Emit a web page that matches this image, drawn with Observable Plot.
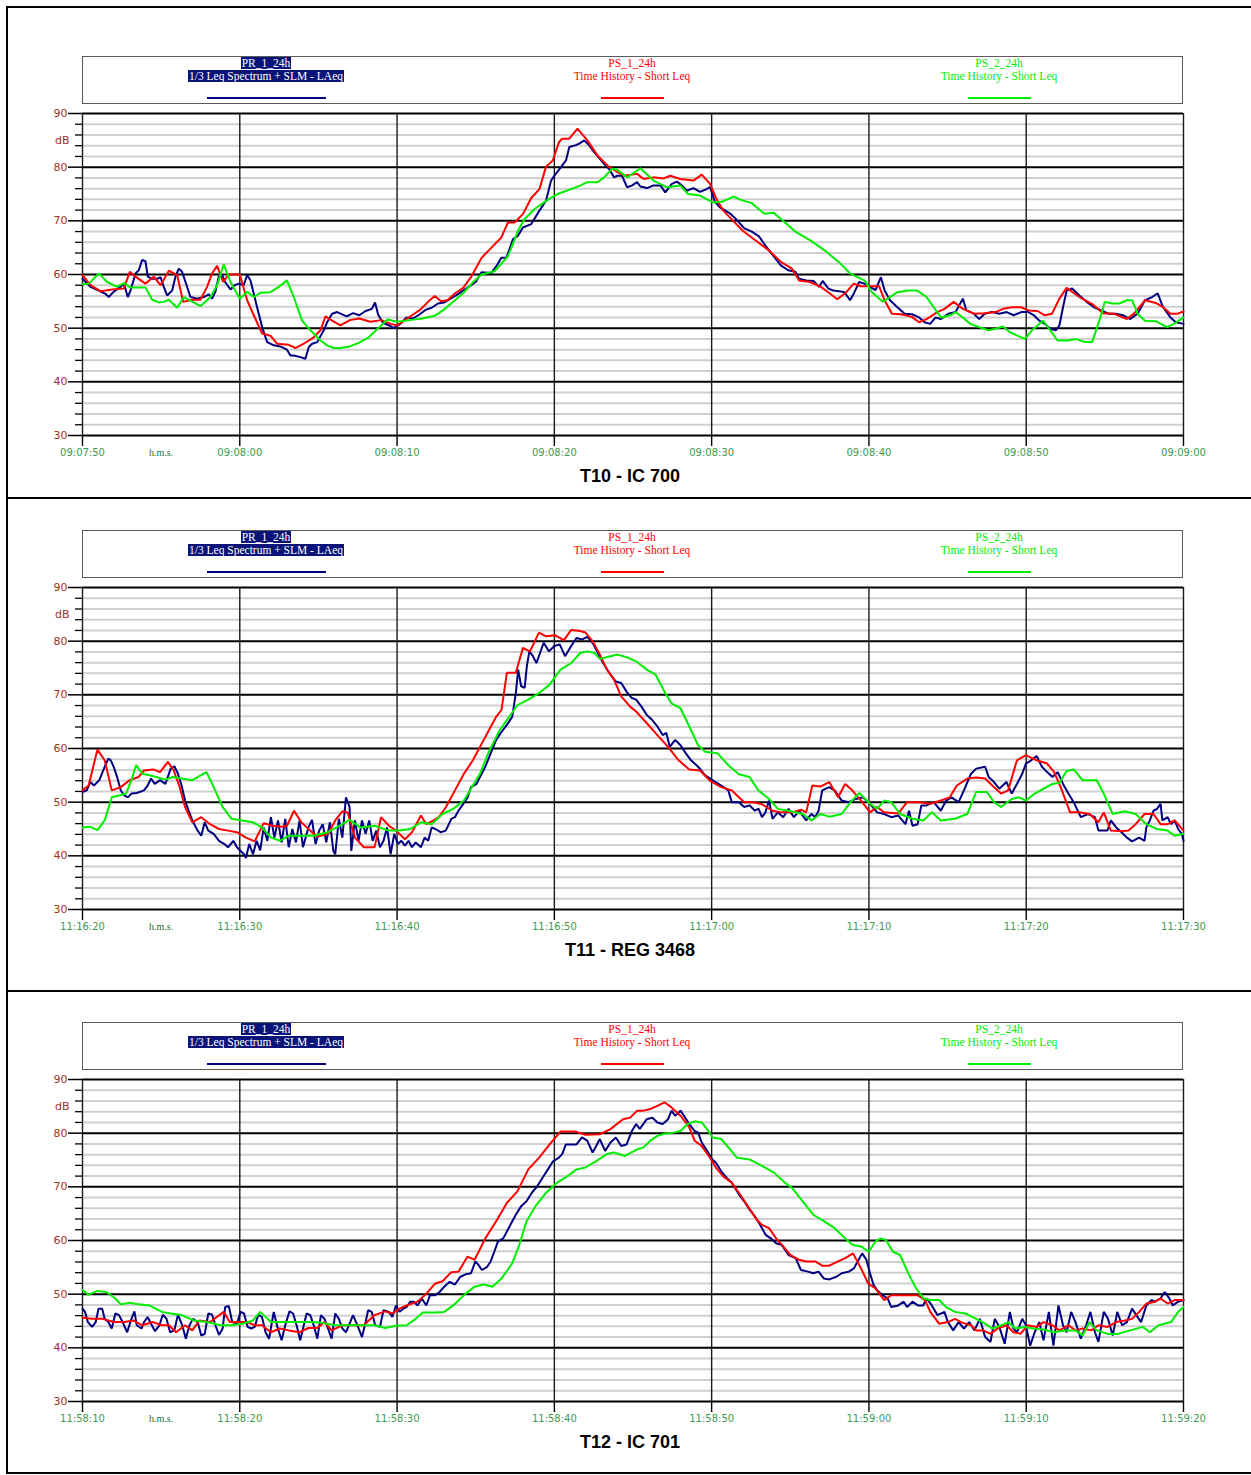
<!DOCTYPE html>
<html>
<head>
<meta charset="utf-8">
<script src="https://cdn.jsdelivr.net/npm/d3@7"></script>
<script src="https://cdn.jsdelivr.net/npm/@observablehq/plot@0.6"></script>
<style>
  html, body { margin: 0; padding: 0; background: #fff; }
  #page { position: relative; width: 1251px; height: 1475px; background: #fff; overflow: hidden; }
  .bd { position: absolute; background: #000; }
  .lgbox { position: absolute; left: 82px; width: 1099px; height: 46px; border: 1.5px solid #5a5a5a; }
  .lg { position: absolute; width: 240px; text-align: center; font-family: "Liberation Serif", serif; font-size: 11.5px; line-height: 13px; white-space: nowrap; }
  .lg span { padding: 0 1px; }
  .mk { position: absolute; height: 2px; }
  .title { position: absolute; left: 0; width: 1260px; text-align: center; font-family: "Liberation Sans", Arial, sans-serif; font-weight: bold; font-size: 18px; }
  .plotwrap { position: absolute; left: 0; }
</style>
</head>
<body>
<div id="page"></div>
<script>
// ---------------- DATA ----------------
const titles = ["T10 - IC 700", "T11 - REG 3468", "T12 - IC 701"];
const seriesNames = ["PR_1_24h", "PS_1_24h", "PS_2_24h"];
const seriesSub = ["1/3 Leq Spectrum + SLM - LAeq", "Time History - Short Leq", "Time History - Short Leq"];
const majorLevels = [30, 40, 50, 60, 70, 80, 90];
const minorLevels = [32, 34, 36, 38, 42, 44, 46, 48, 52, 54, 56, 58, 62, 64, 66, 68, 72, 74, 76, 78, 82, 84, 86, 88];
const tickSeconds = [0, 10, 20, 30, 40, 50, 60, 70];

const t10_ticks = ["09:07:50", "09:08:00", "09:08:10", "09:08:20", "09:08:30", "09:08:40", "09:08:50", "09:09:00"];
const t11_ticks = ["11:16:20", "11:16:30", "11:16:40", "11:16:50", "11:17:00", "11:17:10", "11:17:20", "11:17:30"];
const t12_ticks = ["11:58:10", "11:58:20", "11:58:30", "11:58:40", "11:58:50", "11:59:00", "11:59:10", "11:59:20"];

// [seconds from start, dB]
const t10_blue = [[0,59.2],[0.51,57.7],[1.04,57],[1.46,56.4],[1.67,55.8],[1.99,56.8],[2.42,57.7],[2.63,58.3],[2.88,55.8],[3.05,57],[3.37,60.2],[3.58,60.8],[3.79,62.7],[4.0,62.5],[4.15,59.6],[4.43,59.2],[4.75,59.2],[4.96,59.5],[5.17,57.7],[5.38,56.1],[5.7,57],[5.91,59.6],[6.12,61.1],[6.33,60.5],[6.55,58.6],[6.86,55.8],[7.29,55.5],[7.71,55.8],[8.03,56.3],[8.24,55.5],[8.45,56.8],[8.66,59.6],[8.88,59.9],[9.09,58.5],[9.41,57.2],[9.66,58],[9.94,58.3],[10.25,58],[10.47,59.9],[10.68,58.9],[10.89,56.4],[11.1,53.9],[11.42,50.2],[11.74,47.4],[12.16,46.8],[12.58,46.6],[13.0,46],[13.22,44.9],[13.43,44.9],[13.86,44.6],[14.17,44.3],[14.39,46.5],[14.6,47.1],[14.92,47.4],[15.34,49.6],[15.55,51.1],[15.87,52.7],[16.19,53],[16.4,52.7],[16.8,52.2],[17.2,52.8],[17.6,52.4],[18.0,53.2],[18.4,53.6],[18.6,54.8],[18.8,52.5],[19.1,51],[19.5,50.5],[19.8,50],[20.2,50.8],[20.6,52],[21.0,51.8],[21.4,52.5],[21.8,53.4],[22.2,53.8],[22.6,54.6],[23.0,54.8],[23.4,55.5],[23.8,56.2],[24.2,57],[24.6,57.8],[25.0,58.6],[25.37,60.4],[26.0,60.3],[26.3,61.5],[26.63,63.1],[26.95,63.1],[27.37,66.6],[27.68,67.2],[28.0,68.75],[28.53,69.4],[29.05,71.9],[29.47,73.75],[29.79,77.5],[30.0,78.4],[30.42,80],[30.74,81.25],[30.95,83.75],[31.37,84.1],[31.58,84.4],[31.9,85],[32.2,84.1],[32.53,82.8],[33.16,80.6],[33.47,79.7],[33.8,78.1],[34.0,78.4],[34.3,78.4],[34.63,76.25],[34.95,76.6],[35.26,77.2],[35.47,76.4],[35.9,76.1],[36.3,76.6],[36.74,76.6],[37.05,75.3],[37.47,76.9],[37.79,77.3],[38.1,76.6],[38.42,75.6],[38.84,76.1],[39.26,75.4],[39.68,75.9],[39.9,76.3],[40.2,73.6],[40.53,72.5],[41.16,71.4],[41.62,70.1],[42.08,68.6],[42.55,68],[43.01,67.1],[43.47,65.2],[43.94,63.4],[44.4,61.7],[44.86,60.8],[45.32,60.5],[45.56,59.2],[46.02,58.9],[46.48,58.8],[46.83,57.7],[47.06,58.8],[47.41,57.4],[47.75,57],[48.1,56.9],[48.45,56.7],[48.8,55.2],[49.03,56.4],[49.38,58.6],[49.72,58.3],[50.07,57.7],[50.42,57.1],[50.76,59.5],[51.0,57],[51.34,55.2],[51.81,53.9],[52.27,52.7],[52.73,52.6],[53.19,52],[53.54,51.1],[53.89,50.8],[54.24,52],[54.58,51.7],[55.05,52.7],[55.51,53],[55.97,55.5],[56.2,53.3],[56.67,52.7],[57.01,51.7],[57.36,52.7],[57.82,53],[58.29,52.7],[58.75,53],[59.21,52.4],[59.68,53],[60.14,53],[60.49,52.4],[60.83,51.4],[61.18,50.8],[61.53,49.9],[61.88,49.6],[62.11,50.5],[62.34,53.9],[62.57,57],[62.92,57.4],[63.38,56.1],[63.84,54.9],[64.31,53.9],[64.77,53.3],[65.23,52.7],[65.69,52.7],[66.16,52.4],[66.62,51.7],[67.08,52.7],[67.55,55.2],[68.01,55.8],[68.36,56.5],[68.7,53.9],[69.17,52],[69.51,51.1],[70,50.8]];
const t10_red = [[0,59.9],[0.51,58],[1.14,56.9],[1.46,57],[1.89,57.2],[2.63,57.4],[3.01,60.5],[3.37,59.6],[4.0,58.3],[4.53,59.6],[4.96,58],[5.49,60.7],[6.02,59.9],[6.4,54.9],[6.97,55.3],[7.5,55.3],[7.92,57.7],[8.24,60.2],[8.56,61.6],[8.94,58.6],[9.3,60],[10.0,60],[10.47,55.2],[10.89,52.4],[11.42,49],[11.95,48.6],[12.37,47.1],[13.11,46.9],[13.54,46.3],[14.07,47.1],[14.7,48.3],[15.13,49.6],[15.45,52.2],[15.87,51.4],[16.4,50.5],[17.0,51.5],[17.6,51.8],[18.3,51.2],[19.0,51.5],[19.6,50.8],[20.0,50.5],[20.5,51.5],[21.0,52.5],[21.5,53.5],[22.0,55],[22.4,56],[22.8,55],[23.2,55.2],[23.7,56.5],[24.2,57.5],[24.7,59.5],[25.37,63.1],[26.0,65],[26.63,66.9],[27.05,69.7],[27.47,69.7],[28.0,71.25],[28.53,74.25],[29.05,75.9],[29.47,80.1],[29.9,81.25],[30.3,84.7],[30.5,85.3],[30.95,85.3],[31.47,87.2],[32.1,85],[32.74,82.2],[33.37,80.3],[34.0,79.1],[34.42,78.4],[35.26,78.75],[35.68,77.8],[36.3,78.1],[36.95,77.9],[37.37,78.4],[38.0,77.8],[38.84,77.5],[39.37,78.6],[39.9,76.9],[40.3,74.1],[40.74,71.9],[41.37,70],[42.0,68.1],[42.84,66.25],[43.68,64.4],[44.4,62.35],[45.1,61.1],[45.56,58.9],[46.25,58.6],[46.94,57.7],[47.41,56.7],[47.99,55.4],[48.56,56.7],[49.03,58.3],[49.49,57.8],[50.42,57.8],[50.65,57.8],[51.0,55.2],[51.46,52.7],[52.04,52.6],[52.73,52.1],[53.19,51.1],[53.66,51.7],[54.35,53],[54.81,53.6],[55.39,54.9],[55.97,53.6],[56.67,52.7],[57.36,52.8],[58.06,53],[58.52,53.6],[59.1,53.9],[59.68,53.9],[60.14,53.3],[60.72,53.2],[61.18,52.4],[61.64,52.7],[62.11,55.5],[62.57,57.5],[63.38,55.8],[64.2,54.5],[64.88,52.8],[65.57,52.7],[66.39,51.7],[66.85,52.7],[67.55,55.2],[68.24,54.7],[68.7,53.9],[69.17,52.7],[69.63,52.7],[70,53.1]];
const t10_green = [[0,58.2],[0.4,58.3],[1.04,60.2],[1.57,58.6],[2.2,57.7],[2.63,58.4],[3.05,57.6],[4.0,57.6],[4.43,55.3],[4.85,54.8],[5.17,54.9],[5.49,55.3],[6.02,53.8],[6.44,55.8],[7.5,54.1],[8.14,55.8],[8.56,58],[8.98,61.9],[9.41,58.6],[10.0,55.5],[10.47,56.8],[10.89,55.8],[11.31,56.6],[11.95,56.7],[12.48,57.7],[13.0,58.9],[13.43,55.8],[13.96,51.4],[14.49,49.6],[15.13,47.7],[15.55,46.8],[15.97,46.3],[16.4,46.3],[17.0,46.6],[17.6,47.3],[18.2,48.3],[18.8,50],[19.4,51.6],[20.0,51.2],[20.8,51.5],[21.6,51.8],[22.4,52.3],[23.0,53.5],[23.6,55],[24.2,56.5],[24.8,58.5],[25.37,60],[26.2,60.6],[27.05,63.4],[27.68,68.1],[28.1,70.3],[28.74,72.2],[29.58,73.9],[30.2,75],[31.05,75.9],[31.68,76.6],[32.1,77.2],[32.74,77.2],[33.16,78.1],[33.68,79.7],[34.0,79.5],[34.63,78.1],[35.47,79.8],[36.3,77.5],[37.16,76.25],[38.0,76.6],[38.5,75],[39.26,74.7],[40.1,73.4],[40.7,73.6],[41.4,74.5],[41.85,73.9],[42.55,73.3],[43.36,71.3],[43.94,71.5],[44.63,69.8],[45.32,68],[46.25,66.4],[47.18,64.5],[48.1,62.3],[48.8,60.2],[49.26,59.5],[49.72,58.9],[50.19,56.7],[50.88,54.9],[51.34,55.8],[51.81,56.7],[52.5,57],[53.08,57],[53.66,55.8],[54.12,53.9],[54.58,52],[55.16,52.4],[55.51,53],[55.97,52],[56.44,50.8],[57.01,50.2],[57.59,49.6],[58.06,49.9],[58.52,50.3],[58.98,49.2],[59.44,48.6],[59.91,48],[60.37,49.6],[61.07,51.4],[61.53,49.6],[61.99,47.7],[62.69,47.7],[63.15,48],[63.73,47.4],[64.19,47.4],[64.65,51.4],[65.0,54.9],[65.46,54.6],[65.93,54.6],[66.39,55.2],[66.74,55.2],[67.08,52.7],[67.55,51.4],[68.24,51.3],[68.94,50.2],[69.4,50.8],[70,52]];

const t11_blue = [[0,51.9],[0.27,52.2],[0.5,53.75],[0.73,53.1],[1.07,54.1],[1.41,56.6],[1.64,58.1],[1.8,57.8],[1.98,56.6],[2.2,54.7],[2.43,52.2],[2.66,51.25],[2.89,50.9],[3.11,51.6],[3.45,51.7],[3.91,52.2],[4.14,53.1],[4.36,54.4],[4.59,53.4],[4.93,54.1],[5.27,53.4],[5.61,56.25],[5.84,56.7],[6.07,55.3],[6.3,53.1],[6.52,50.3],[6.75,48.4],[6.98,46.6],[7.32,44.7],[7.55,43.75],[7.77,46.25],[8.0,44.7],[8.34,44.1],[8.68,42.8],[9.02,42.2],[9.25,41.6],[9.59,42.8],[9.82,41.6],[10.05,40.9],[10.27,40.3],[10.39,39.6],[10.6,42.2],[10.84,40.3],[11.07,42.8],[11.3,41],[11.52,45.3],[11.75,42.8],[11.98,47.2],[12.2,43.4],[12.43,46.6],[12.66,42.5],[12.89,46.9],[13.11,41.6],[13.34,45],[13.57,42.5],[13.8,46.6],[14.02,41.6],[14.36,45.3],[14.59,46.7],[14.82,42.2],[15.05,44.7],[15.27,45.9],[15.5,42.5],[15.73,46.25],[15.95,40.9],[16.07,40.3],[16.3,46.9],[16.52,43.4],[16.75,50.9],[16.98,49.1],[17.09,40.9],[17.32,46.6],[17.55,42.8],[17.77,46.6],[18.0,44.1],[18.23,46.6],[18.45,42.8],[18.68,44.7],[18.91,41.6],[19.14,42.8],[19.36,45.3],[19.59,40.3],[19.82,44.1],[20.05,42.2],[20.27,42.8],[20.5,41.9],[20.73,42.8],[20.95,41.6],[21.18,42.5],[21.52,41.6],[21.75,43.4],[21.98,42.8],[22.2,45.3],[22.43,45],[22.77,44.4],[23.1,44.7],[23.45,46.9],[23.68,47.2],[23.9,48.4],[24.14,49.4],[24.48,50.9],[24.7,52.8],[25.05,53.4],[25.27,54.7],[25.61,56.6],[25.95,59.1],[26.3,61.6],[26.64,63.1],[26.98,64.4],[27.32,65.9],[27.55,70.3],[27.7,74.7],[27.89,71.6],[28.11,71.3],[28.25,75.3],[28.41,78.1],[28.64,77.2],[28.86,75.9],[29.09,77.8],[29.32,79.7],[29.66,78.1],[30.0,79.1],[30.34,79.4],[30.68,77.2],[31.07,79.1],[31.41,80.6],[31.75,80.3],[32.09,80.8],[32.43,79.7],[32.77,77.8],[33.11,75.9],[33.57,73.75],[33.9,72.5],[34.25,72.2],[34.59,70.6],[34.93,69.4],[35.2,69.1],[35.54,67.8],[35.88,66.25],[36.22,65.3],[36.55,64.1],[36.89,62.5],[37.12,62.9],[37.34,60.3],[37.68,61.6],[38.02,60.6],[38.36,59.1],[38.69,57.8],[39.14,56.6],[39.59,55],[40.05,54.1],[40.61,53.1],[41.06,52.2],[41.28,50],[41.73,50],[42.07,49.1],[42.41,49.4],[42.75,48.4],[42.98,48.8],[43.2,47.2],[43.42,48.1],[43.65,50.3],[43.87,46.9],[44.21,48.1],[44.55,47.2],[44.89,48.75],[45.23,47.2],[45.56,48.4],[46.01,46.6],[46.35,47.8],[46.58,47.2],[46.8,48.4],[47.03,52.2],[47.48,52.8],[47.82,52.2],[48.27,50.3],[48.72,50],[49.17,50.6],[49.62,50.9],[50.07,49.7],[50.52,48.1],[50.97,47.8],[51.42,47.2],[51.87,47.5],[52.32,45.9],[52.55,48.4],[52.77,45.6],[53.1,45.9],[53.33,49.4],[53.67,49.4],[54.12,50],[54.57,48.4],[54.91,50.3],[55.25,50.9],[55.7,50],[56.04,52.2],[56.49,55.3],[56.82,56.25],[57.39,56.6],[57.61,54.7],[57.95,53.75],[58.29,52.5],[58.74,53.75],[59.08,51.6],[59.41,53.4],[59.75,55.3],[59.98,57.2],[60.32,57.8],[60.66,58.6],[61.0,56.6],[61.33,55.6],[61.67,54.7],[62.0,55.6],[62.34,53.4],[62.68,51.6],[63.02,50],[63.47,47.2],[63.92,47.8],[64.37,47.2],[64.59,44.7],[65.16,44.7],[65.38,46.6],[65.72,45.3],[66.06,44.4],[66.4,43.4],[66.73,42.7],[67.18,43.4],[67.52,42.8],[67.64,45.3],[67.86,46.6],[68.09,48.4],[68.32,48.75],[68.54,49.7],[68.66,46.6],[68.99,47.2],[69.21,45.9],[69.44,46.6],[69.66,45],[69.89,44.1],[70,42.8]];
const t11_red = [[0,52.2],[0.39,53.1],[0.95,59.8],[1.41,57.8],[1.86,52.2],[2.43,52.8],[3.0,54.1],[3.57,54.7],[3.91,55.9],[4.48,56.1],[4.93,55.6],[5.43,57.5],[5.8,55.9],[6.18,52.8],[6.52,49.1],[6.98,46.25],[7.55,47.2],[8.11,45.9],[8.68,45],[9.25,44.7],[9.82,44.4],[10.39,43.4],[10.95,42.7],[11.52,46.1],[12.09,45.6],[12.66,45.4],[13.0,45.6],[13.45,48.4],[13.91,46.25],[14.48,44.7],[14.93,43.6],[15.61,44.1],[16.07,46.6],[16.52,48.3],[16.86,48.1],[17.32,43.4],[17.89,41.6],[18.57,41.6],[18.98,47.2],[19.48,45.6],[19.93,44.7],[20.5,43.1],[20.95,44.4],[21.52,47.5],[21.86,45.9],[22.32,46.6],[22.66,47.2],[23.11,49.1],[23.68,52.2],[24.25,55.3],[24.82,57.8],[25.27,60.3],[25.84,63.4],[26.3,65.9],[26.64,67.2],[26.98,74.1],[27.55,74.1],[28.0,78.75],[28.45,78.1],[29.02,81.6],[29.48,80.9],[30.05,81.1],[30.61,80.2],[31.07,82.1],[31.64,81.9],[31.98,81.6],[32.43,80],[32.89,77.5],[33.34,74.7],[33.8,72.8],[34.25,69.7],[34.82,67.8],[35.2,66.9],[35.88,64.7],[36.55,62.5],[37.23,60.3],[37.9,57.8],[38.58,56.1],[39.26,55.9],[39.93,53.9],[40.61,52.8],[41.28,52.2],[41.73,50.9],[42.07,50],[42.64,50],[43.2,49.6],[43.87,48.4],[44.44,48.1],[45.11,48.1],[45.68,48.6],[46.01,48.1],[46.4,53.1],[46.91,52.9],[47.48,53.75],[48.04,50.9],[48.49,53.4],[48.94,52.2],[49.5,50.3],[50.07,48.1],[50.52,49.1],[50.97,48.1],[51.87,47.9],[52.43,50],[53.22,50],[53.9,49.7],[54.57,50.3],[55.14,50.9],[55.59,53.1],[56.26,54.4],[56.82,54.6],[57.39,54.4],[57.84,53.1],[58.4,51.6],[58.85,52.2],[59.41,57.8],[59.98,58.75],[60.66,57.8],[61.33,57.2],[61.78,55.6],[62.23,52.5],[62.79,48.1],[63.36,48.1],[64.03,47.8],[64.59,46.25],[64.93,48.1],[65.38,44.7],[66.06,44.6],[66.51,44.7],[66.96,45.9],[67.52,47.8],[68.09,47.8],[68.54,45.9],[68.99,45.9],[69.44,46.6],[70,44.7]];
const t11_green = [[0,45.3],[0.5,45.4],[0.95,44.8],[1.41,46.6],[1.86,50.9],[2.32,51.25],[2.77,51.6],[3.11,54.1],[3.41,56.9],[3.8,55.3],[4.25,55],[4.7,54.7],[5.27,54.2],[5.73,54.7],[6.3,54.4],[6.98,54.1],[7.89,55.6],[8.34,52.8],[8.91,49.1],[9.48,46.9],[10.16,46.6],[10.84,46.25],[11.41,45.3],[11.98,43.4],[12.55,42.8],[13.11,43.75],[13.8,43.75],[14.7,43.75],[15.61,44.4],[16.52,45.9],[16.98,46.7],[17.66,45.3],[18.57,45.6],[19.48,44.7],[20.16,44.7],[20.84,45],[21.52,46.25],[22.2,45.9],[22.89,47.8],[23.57,48.75],[24.25,50.3],[24.7,52.5],[25.27,55.3],[25.84,59.4],[26.52,63.4],[26.98,65.3],[27.66,68.1],[28.34,69.1],[29.02,70.3],[29.7,71.9],[30.39,74.7],[31.07,75.9],[31.64,77.8],[32.09,78.1],[32.55,77.8],[32.89,76.7],[33.57,77.2],[34.02,77.5],[34.7,76.9],[35.2,76.25],[35.88,74.7],[36.44,73.75],[37.0,70.6],[37.45,68.4],[38.02,67.5],[38.58,64.1],[39.14,60.6],[39.59,59.4],[40.38,59.1],[41.06,56.9],[41.73,55.2],[42.41,54.7],[42.97,52.2],[43.65,50.6],[44.21,48.75],[44.89,48.4],[45.79,47.8],[46.35,46.6],[46.91,47.8],[47.48,47.3],[48.27,47.8],[48.83,50],[49.39,51.7],[50.07,49.7],[50.52,48.75],[50.97,50.3],[51.42,50],[51.98,47.8],[52.77,46.9],[53.45,46.6],[54.01,48.1],[54.57,46.6],[55.47,46.9],[56.26,47.8],[56.82,51.9],[57.5,51.9],[57.95,50],[58.4,49.1],[59.08,50.6],[59.53,50.9],[59.98,50.3],[60.54,51.6],[61.1,52.5],[61.67,53.4],[62.12,53.6],[62.57,55.8],[63.02,56.1],[63.58,54.1],[64.48,54.1],[64.93,51.6],[65.5,47.8],[66.28,48.3],[66.96,47.8],[67.64,45.9],[68.31,45],[68.99,44.7],[69.44,43.75],[70,44.1]];

const t12_blue = [[0,47.3],[0.16,46.7],[0.34,44.8],[0.61,43.9],[0.84,44.8],[1.02,47.3],[1.25,47.3],[1.41,45.4],[1.64,44.8],[1.86,43.6],[2.09,46.4],[2.32,46.1],[2.55,44.8],[2.84,42.9],[3.11,45.4],[3.3,46.8],[3.45,44.2],[3.75,43.6],[3.91,44.8],[4.14,45.75],[4.36,44.5],[4.61,43.1],[4.89,44.2],[5.11,46.2],[5.34,45.4],[5.57,42.9],[5.84,43.25],[6.07,46.2],[6.34,44.2],[6.57,41.7],[6.8,44.2],[7.02,45.4],[7.32,44.8],[7.55,42.3],[7.77,42.6],[8.0,46.4],[8.23,46.2],[8.45,44.2],[8.68,42.4],[8.91,43.6],[9.07,47.6],[9.3,47.8],[9.52,44.8],[9.82,44.5],[10.05,46.7],[10.27,46.4],[10.5,43.9],[10.73,43.6],[10.95,43.9],[11.18,46.2],[11.41,45.75],[11.64,42.9],[11.86,41.7],[12.16,46.7],[12.39,43.9],[12.66,41.4],[12.89,44.2],[13.16,46.8],[13.39,46.4],[13.61,44.2],[13.84,41.4],[14.07,44.2],[14.25,46.4],[14.48,46.1],[14.7,44.2],[14.93,41.7],[15.16,46.1],[15.39,45.4],[15.61,43.6],[15.84,41.7],[16.07,46.4],[16.3,45.4],[16.52,43.6],[16.75,42.9],[17.02,44.8],[17.2,46.1],[17.48,44.2],[17.77,42],[18.0,44.8],[18.16,47],[18.39,46.7],[18.61,44.2],[18.91,43.9],[19.14,47],[19.48,46.7],[19.7,45.75],[19.93,47.9],[20.16,46.7],[20.39,47.3],[20.61,47.6],[20.84,48.6],[21.07,48.6],[21.3,47.9],[21.57,49.2],[21.86,47.9],[22.09,49.8],[22.43,49.8],[22.7,50.4],[23.0,51.4],[23.34,52.3],[23.68,51.8],[24.02,53.25],[24.36,53.7],[24.7,53.9],[24.98,56.1],[25.16,55.5],[25.39,54.5],[25.73,55.1],[25.95,56.1],[26.18,57.9],[26.41,59.8],[26.75,60.4],[27.2,62.9],[27.55,64.8],[27.89,66.4],[28.23,67.3],[28.57,68.9],[28.91,70.1],[29.25,71.7],[29.59,73.25],[29.93,74.8],[30.27,75.4],[30.5,76.1],[30.73,77.9],[31.07,77.9],[31.41,77.9],[31.75,79.2],[32.09,78.6],[32.43,76.4],[32.66,77.6],[32.89,78.9],[33.23,76.7],[33.57,78.25],[33.91,79.2],[34.25,77.6],[34.59,77.9],[34.93,80.4],[35.2,81.7],[35.43,80.8],[35.65,81.7],[35.88,82.6],[36.22,82.9],[36.55,82],[36.89,81.7],[37.23,82.6],[37.45,84.2],[37.68,83.25],[38.02,84.2],[38.24,83.25],[38.58,81.7],[38.92,80.4],[39.14,80.1],[39.37,78.25],[39.71,76.7],[40.05,75.1],[40.27,74.5],[40.61,72.9],[40.95,71.7],[41.28,70.75],[41.73,68.6],[42.07,67.3],[42.41,65.75],[42.75,64.5],[43.09,62.9],[43.42,61.1],[43.76,60.4],[44.1,59.5],[44.44,59.2],[44.89,57.3],[45.34,56.7],[45.68,54.5],[46.13,54.2],[46.46,53.9],[46.8,54.2],[47.14,52.9],[47.48,52.75],[47.93,53.25],[48.27,53.9],[48.72,54.2],[49.05,54.8],[49.28,56.1],[49.57,57.6],[49.84,56.4],[50.07,53.9],[50.29,51.75],[50.52,50.75],[50.86,49.8],[51.19,49.2],[51.42,47.6],[51.87,47.9],[52.21,48.6],[52.43,47.6],[52.77,48.6],[53.11,47.9],[53.45,47.9],[53.67,49.2],[54.0,47.9],[54.35,46.1],[54.8,46.7],[55.02,44.8],[55.36,43.25],[55.7,44.8],[56.04,43.6],[56.37,44.8],[56.71,43.25],[57.05,45.4],[57.39,42],[57.73,41.1],[58.0,45.4],[58.29,43.9],[58.63,40.75],[58.96,46.7],[59.19,43.6],[59.41,42.9],[59.75,45.4],[59.98,44.2],[60.25,40.4],[60.54,42.9],[60.83,44.8],[61.1,41.4],[61.44,46.7],[61.73,40.4],[62.05,47.9],[62.34,44.2],[62.57,42.9],[62.86,46.7],[63.13,44.8],[63.47,41.7],[63.81,44.2],[64.08,46.7],[64.37,42.9],[64.59,41.1],[64.93,46.7],[65.2,45.4],[65.5,42.3],[65.79,46.7],[66.1,44.2],[66.4,44.8],[66.73,47.3],[67.0,46.1],[67.3,44.8],[67.64,47.9],[67.97,48.9],[68.2,48.6],[68.54,49.2],[68.8,50.4],[69.1,49.2],[69.32,47.9],[69.66,48.6],[70,48.9]];
const t12_red = [[0,45.6],[0.61,45.4],[1.3,45.4],[1.98,44.8],[2.66,44.8],[3.23,45.1],[3.8,44.2],[4.48,44.8],[5.05,44.2],[5.5,44.2],[5.95,42.9],[6.52,44.2],[6.98,43.25],[7.43,45.1],[8.11,44.8],[8.98,46.7],[9.36,44.8],[10.05,44.8],[10.5,44.8],[10.95,44.2],[11.41,44.2],[11.98,42.9],[12.55,43.6],[13.11,43.25],[13.8,42.9],[14.36,43.7],[14.93,43.7],[15.39,44.8],[15.84,43.25],[16.52,44.2],[17.2,44.2],[17.89,44.2],[18.57,46.1],[19.25,46.8],[19.7,46.4],[20.16,47.3],[20.61,47.9],[21.3,48.6],[21.86,50.1],[22.43,52],[22.89,52.4],[23.45,54.1],[23.91,54.2],[24.48,57],[24.93,56.4],[25.61,60.4],[26.3,63.6],[26.98,67],[27.66,69.2],[28.34,73.25],[29.02,75.4],[29.7,77.9],[30.39,80.3],[31.3,80.3],[31.98,79.7],[32.89,79.8],[33.57,80.75],[34.36,82.6],[34.82,82.9],[35.27,84.2],[35.65,84.2],[36.1,84.5],[36.55,85.1],[37.0,85.75],[37.45,84.8],[38.02,83.25],[38.58,81.1],[38.92,78.6],[39.37,77.6],[39.82,75.75],[40.27,73.6],[40.72,72],[41.28,70.75],[41.73,68.9],[42.3,66.4],[42.86,63.9],[43.2,62.9],[43.65,62.3],[44.1,60.4],[44.55,58.9],[45.0,57.3],[45.56,56.4],[46.01,56.1],[46.58,56.1],[47.03,55.3],[47.48,55.3],[48.04,56.1],[48.49,56.7],[48.99,57.6],[49.5,54.8],[49.95,52],[50.4,51.1],[50.97,48.9],[51.42,49.8],[51.98,49.8],[53.11,49.8],[53.56,48.9],[53.9,46.7],[54.46,44.5],[55.02,44.8],[55.47,45.4],[55.92,44.7],[56.49,44.2],[56.82,43.25],[57.27,43.25],[57.73,42.6],[58.18,43.6],[58.74,44.2],[59.19,42.9],[59.64,42.6],[60.09,44.2],[60.66,43.9],[61.1,44.8],[61.67,44.2],[62.12,43.25],[62.68,44.2],[63.13,43.25],[63.58,43.6],[64.14,43.25],[64.59,44.2],[65.16,43.9],[65.72,44.8],[66.28,45.1],[66.73,45.4],[67.18,46.7],[67.64,48.25],[68.2,48.6],[68.54,49.2],[68.99,48.25],[69.44,48.9],[70,48.9]];
const t12_green = [[0,50.75],[0.39,49.9],[0.95,50.6],[1.52,50.4],[2.09,49.2],[2.43,48.1],[3.0,48.4],[3.57,48.1],[4.25,47.9],[5.05,46.7],[5.61,46.4],[6.3,46.1],[7.09,45.1],[7.89,44.8],[8.8,44.2],[9.48,44.2],[10.16,44.5],[10.84,45.1],[11.3,46.7],[11.98,44.8],[12.66,44.8],[13.34,44.8],[14.25,44.8],[15.16,44.7],[16.07,44.2],[16.98,44.2],[17.89,44.2],[18.57,44.2],[19.25,43.7],[19.93,44.1],[20.61,44.2],[21.18,45.4],[21.64,46.6],[22.43,46.6],[23.0,46.7],[23.57,47.9],[24.36,50.1],[24.93,51.4],[25.5,51.8],[26.07,51.4],[26.64,52.9],[27.32,55.75],[27.77,59.2],[28.23,63.6],[28.8,66.4],[29.48,68.9],[30.16,70.75],[30.84,72],[31.41,73.25],[31.98,73.6],[32.66,74.8],[33.34,76.1],[33.8,76.4],[34.48,75.75],[35.27,77],[35.65,77.3],[36.1,78.6],[36.55,79.5],[37.0,79.9],[37.57,80.1],[38.02,80.4],[38.47,81.7],[38.92,82.2],[39.37,82],[39.71,80.75],[40.05,79.2],[40.61,78.9],[41.17,77],[41.62,75.4],[42.41,75.1],[43.2,73.9],[43.99,72.6],[44.66,70.75],[45.11,69.8],[45.79,67.3],[46.46,64.8],[47.14,63.6],[47.82,62.3],[48.49,60.4],[48.94,59.2],[49.5,58.9],[50.0,57.9],[50.41,59.8],[50.74,60.4],[51.08,60.1],[51.53,57.9],[51.98,57.3],[52.55,53.6],[53.0,51.1],[53.45,49.25],[53.9,48.9],[54.46,48.9],[54.91,47.6],[55.47,46.7],[56.15,46.4],[56.82,45.4],[57.39,44.5],[57.84,43.6],[58.4,44.2],[58.85,44.8],[59.3,43.6],[59.86,43.9],[60.43,43.6],[61.1,43.4],[61.78,42.9],[62.46,43.25],[63.13,43.25],[63.58,42.3],[64.03,44.8],[64.48,43.25],[65.16,42.6],[65.84,42.6],[66.62,43.25],[67.41,43.9],[67.86,42.9],[68.42,44.2],[69.21,44.8],[69.66,46.7],[70,47.6]];

// ---------------- LAYOUT ----------------
const colors = ["#000080", "#ff0000", "#00ee00"];
const panels = [
  {title: titles[0], ticks: t10_ticks, series: [t10_blue, t10_red, t10_green], base: 0},
  {title: titles[1], ticks: t11_ticks, series: [t11_blue, t11_red, t11_green], base: 474},
  {title: titles[2], ticks: t12_ticks, series: [t12_blue, t12_red, t12_green], base: 966}
];

const page = document.getElementById("page");
function add(tag, cls, css, html) {
  const el = document.createElement(tag);
  if (cls) el.className = cls;
  Object.assign(el.style, css);
  if (html != null) el.innerHTML = html;
  page.appendChild(el);
  return el;
}

// table borders
add("div", "bd", {left: "6px", top: "6px", width: "1245px", height: "2px"});
add("div", "bd", {left: "6px", top: "6px", width: "2px", height: "1468px"});
add("div", "bd", {left: "6px", top: "497px", width: "1245px", height: "2px"});
add("div", "bd", {left: "6px", top: "990px", width: "1245px", height: "2px"});
add("div", "bd", {left: "6px", top: "1472px", width: "1245px", height: "2px"});

const legendCenters = [266, 632, 999];
const markerWidths = [119, 63, 63];

panels.forEach(p => {
  const b = p.base;
  // legend box
  add("div", "lgbox", {top: (b + 56) + "px"});
  seriesNames.forEach((name, i) => {
    const c = legendCenters[i];
    const col = colors[i];
    const l1 = i === 0
      ? `<span style="background:#0a1378;color:#fff">${name}</span>`
      : `<span style="background:#fff;color:${col}">${name}</span>`;
    const l2 = i === 0
      ? `<span style="background:#0a1378;color:#fff">${seriesSub[i]}</span>`
      : `<span style="color:${col}">${seriesSub[i]}</span>`;
    add("div", "lg", {left: (c - 120) + "px", top: (b + 57) + "px"}, l1 + "<br>" + l2);
    add("div", "mk", {left: (c - markerWidths[i] / 2) + "px", top: (b + 97) + "px", width: markerWidths[i] + "px", background: col});
  });

  // chart
  const plot = Plot.plot({
    width: 1251,
    height: 362,
    marginLeft: 82,
    marginRight: 68,
    marginTop: 10,
    marginBottom: 30,
    x: {domain: [0, 70], axis: null},
    y: {domain: [30, 90], axis: null},
    style: {fontFamily: "DejaVu Sans, sans-serif", fontSize: "10px", background: "transparent", overflow: "visible"},
    marks: [
      Plot.ruleY(minorLevels, {stroke: "#cfcfcf", strokeWidth: 2}),
      Plot.ruleY(majorLevels, {stroke: "#000", strokeWidth: 2}),
      Plot.ruleX(tickSeconds, {stroke: "#1a1a1a", strokeWidth: 1.4}),
      Plot.axisY(minorLevels, {tickSize: 7, tickFormat: () => "", stroke: "#000", strokeWidth: 1.3, label: null}),
      Plot.axisY(majorLevels, {tickSize: 14, tickPadding: 1, stroke: "#000", strokeWidth: 1.5, fill: "#a3301f", fontSize: 11, label: null}),
      Plot.axisY([85], {tickSize: 0, tickPadding: 13, tickFormat: () => "dB", fill: "#a3301f", fontSize: 11, label: null}),
      Plot.axisX(tickSeconds, {tickSize: 11, tickPadding: 2, stroke: "#000", strokeWidth: 1.4, tickFormat: d => p.ticks[tickSeconds.indexOf(d)], fill: "#3b9a52", fontSize: 10, label: null}),
      Plot.axisX([5], {tickSize: 0, tickPadding: 13, tickFormat: () => "h.m.s.", fill: "#1d6e1d", fontFamily: "Liberation Serif, serif", fontSize: 10, label: null}),
      ...p.series.map((s, i) => Plot.line(s, {x: d => d[0], y: d => d[1], stroke: colors[i], strokeWidth: 2, strokeLinejoin: "miter"}))
    ]
  });
  const wrap = add("div", "plotwrap", {top: (b + 103) + "px"});
  wrap.appendChild(plot);

  add("div", "title", {top: (b + 466) + "px"}, p.title);
});
</script>
</body>
</html>
